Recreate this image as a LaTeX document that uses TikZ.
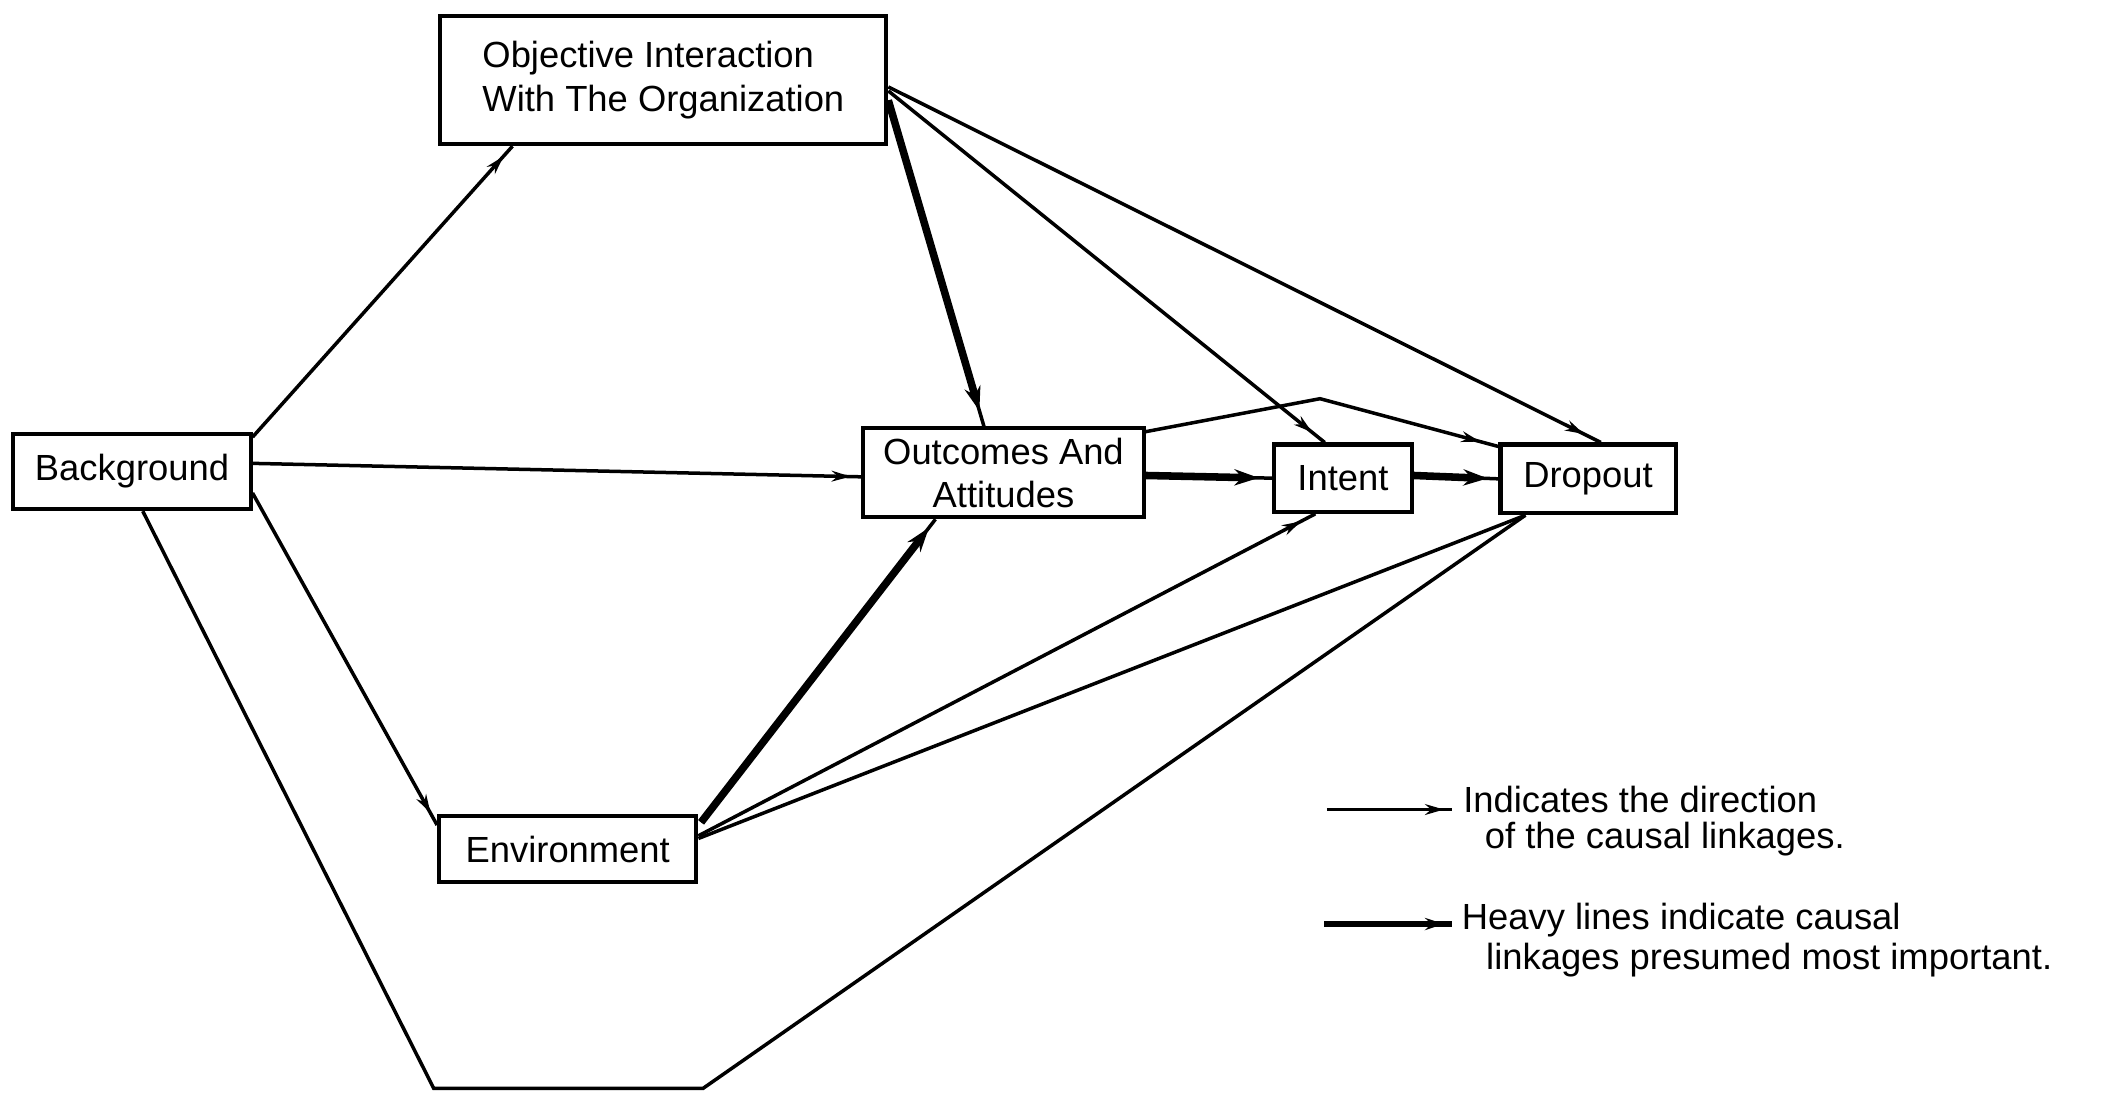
\documentclass[tikz,border=0pt]{standalone}
\usepackage{fontspec}
\setmainfont{Liberation Sans}
\usetikzlibrary{arrows.meta,decorations.markings,calc}
\begin{document}
\begin{tikzpicture}[x=0.5pt,y=-0.5pt,
  box/.style={draw, line width=1.5pt, inner sep=0pt, font=\fontsize{13.5}{16}\selectfont},
  lab/.style={inner sep=0pt, anchor=base west, font=\fontsize{13.5}{16}\selectfont},
  thinline/.style={line width=1.3pt},
  heavyline/.style={line width=1.3pt, preaction={draw, line width=2.8pt, shorten >=#1, -{Stealth[length=9pt,width=6pt]}}},
  tipped/.style={postaction={decorate}, decoration={markings, mark=at position -#1 with {\arrow{Stealth[length=7pt,width=4pt]}}}}
]
\fill[white] (0,0) rectangle (1568,814);
\useasboundingbox (0,0) rectangle (1568,814);

% nodes
\node[box, minimum width=165.5pt, minimum height=47.5pt, align=left] (obj) at (492.5,59.5) {Objective Interaction\\With The Organization};
\node[box, minimum width=88pt, minimum height=28pt] (bg) at (98,350) {Background};
\node[box, minimum width=104pt, minimum height=33pt, align=center] (out) at (745,351) {Outcomes And\\Attitudes};
\node[box, minimum width=51pt, minimum height=25pt] (int) at (997,355) {Intent};
\node[box, minimum width=65pt, minimum height=25.5pt] (drop) at (1179,355.5) {Dropout};
\node[box, minimum width=95.5pt, minimum height=24.5pt] (env) at (421.5,630.5) {Environment};

% bend points
\coordinate (c1) at (322,808);
\coordinate (c2) at (522,808);
\coordinate (c3) at (980,296);

% thin connectors
\draw[thinline, tipped=5pt] ($(bg.north east)+(0,4)$) -- ($(obj.south west)+(55,0)$);
\draw[thinline, tipped=4pt] ($(bg.east)+(0,-6)$) -- ($(out.west)+(0,3)$);
\draw[thinline, tipped=5pt] ($(bg.east)+(0,16)$) -- ($(env.north west)+(0,8)$);
\draw[thinline] ($(bg.south)+(8,0)$) -- (c1) -- (c2) -- ($(drop.south west)+(20,0)$);
\draw[thinline, tipped=6pt] ($(obj.east)+(0,8)$) -- ($(int.north west)+(39,0)$);
\draw[thinline, tipped=7pt] ($(obj.east)+(0,5)$) -- ($(drop.north west)+(76,0)$);
\draw[thinline, tipped=7pt] ($(out.north east)+(0,4)$) -- (c3) -- ($(drop.north west)+(0,3)$);
\draw[thinline, tipped=6pt] ($(env.east)+(0,-10)$) -- ($(int.south west)+(32,0)$);
\draw[thinline] ($(env.east)+(0,-8)$) -- ($(drop.south west)+(20,0)$);

% heavy connectors
\draw[heavyline=6pt] ($(obj.east)+(0,15)$) -- ($(out.north west)+(91,0)$);
\draw[heavyline=5pt] ($(out.east)+(0,2)$) -- (int.west);
\draw[heavyline=4pt] ($(int.east)+(0,-2)$) -- (drop.west);
\draw[heavyline=4pt] ($(env.north east)+(2,6)$) -- ($(out.south west)+(55,0)$);

% legend
\coordinate (l1a) at (985,601);
\coordinate (l1b) at (1078,601);
\coordinate (l2a) at (983,686);
\coordinate (l2b) at (1078,686);
\draw[thinline, tipped=3pt] (l1a) -- (l1b);
\draw[line width=2pt, postaction={decorate}, decoration={markings, mark=at position -3pt with {\arrow{Stealth[length=7pt,width=4.5pt]}}}] (l2a) -- (l2b);
\node[lab] (t1) at (1086,603) {Indicates the direction};
\node[lab] (t2) at (1102,630) {of the causal linkages.};
\node[lab] (t3) at (1085,690) {Heavy lines indicate causal};
\node[lab] (t4) at (1103,720) {linkages presumed most important.};
\end{tikzpicture}
\end{document}
